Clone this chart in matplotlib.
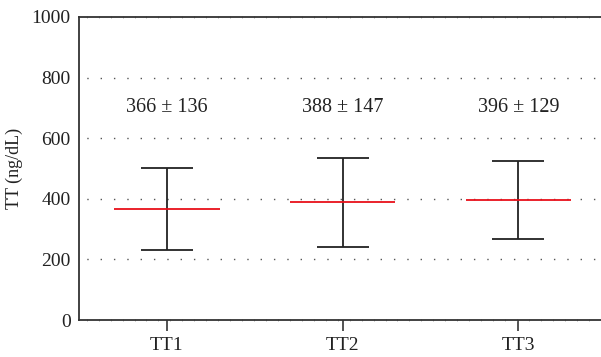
"""Mean +/- SD of total testosterone at three time points."""

import matplotlib
matplotlib.use("Agg")
import matplotlib.pyplot as plt
from matplotlib.ticker import MultipleLocator

groups = ["TT1", "TT2", "TT3"]
means = [366, 388, 396]
sds = [136, 147, 129]
labels = ["366 ± 136", "388 ± 147", "396 ± 129"]
label_y = 700
y_ticks = [0, 200, 400, 600, 800, 1000]

plt.rcParams["font.family"] = ["Liberation Serif", "DejaVu Serif"]

fig = plt.figure(figsize=(6.01, 3.57), dpi=100)
ax = fig.add_axes([0.1314, 0.1036, 0.8686, 0.8488])

x = list(range(1, len(groups) + 1))

for yv in y_ticks[1:-1]:
    ax.axhline(yv, color="#555555", linestyle=(4, (1, 8.6)), linewidth=1.0, zorder=0)

ax.errorbar(x, means, yerr=sds, fmt="none", ecolor="#222222", elinewidth=1.3,
            capsize=18.7, capthick=1.3, zorder=2)
ax.hlines(means, [xi - 0.3 for xi in x], [xi + 0.3 for xi in x],
          color="#e8101a", linewidth=1.3, zorder=3)

for xi, txt in zip(x, labels):
    ax.text(xi, label_y, txt, ha="center", va="center", fontsize=14.5, color="#222222")

ax.set_xlim(0.5, 3.47)
ax.set_ylim(0, 1000)
ax.set_xticks(x)
ax.set_xticklabels(groups, fontsize=14, color="#222222")
ax.set_yticks(y_ticks)
ax.set_yticklabels([str(v) for v in y_ticks], fontsize=14, color="#222222")
ax.set_ylabel("TT (ng/dL)", fontsize=13, color="#222222", labelpad=6)

ax.xaxis.set_minor_locator(MultipleLocator(0.068))
ax.tick_params(axis="x", which="major", length=8, width=1.3, color="#444444", pad=4)
ax.tick_params(axis="x", which="minor", length=1.2, width=0.5, color="#888888",
               top=True, direction="inout")
ax.tick_params(axis="y", length=0, pad=6)

for side in ["left", "bottom", "top"]:
    ax.spines[side].set_color("#333333")
    ax.spines[side].set_linewidth(1.3)
ax.spines["right"].set_visible(False)

fig.savefig("out.png", dpi=100)
